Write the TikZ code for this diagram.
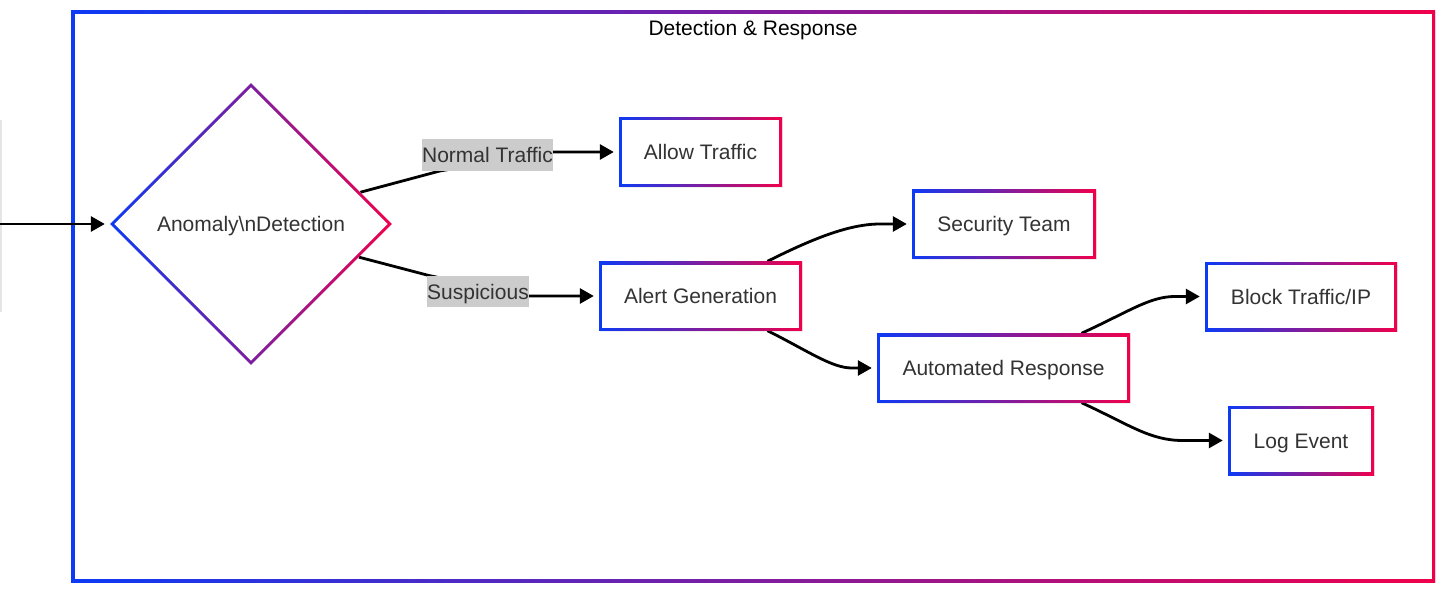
\documentclass[tikz,border=0pt]{standalone}
\usepackage{fontspec}
\setmainfont{Liberation Sans}
\usetikzlibrary{shapes.geometric,arrows.meta,calc,shadows}
\definecolor{gblue}{RGB}{12,58,245}
\definecolor{gred}{RGB}{240,0,75}
\definecolor{txt}{RGB}{51,51,51}
\definecolor{lblbg}{RGB}{204,204,204}
\pgfdeclarelayer{back}
\pgfdeclarelayer{edges}
\pgfsetlayers{back,edges,main}
\begin{document}
\begin{tikzpicture}[x=1pt,y=-1pt,
  font=\fontsize{21}{25}\selectfont,
  gbox/.style={rectangle, minimum width=#1, minimum height=69pt, inner sep=0pt, text=txt,
    text height=15.2pt, text depth=0pt,
    drop shadow={opacity=0.12,shadow xshift=1pt,shadow yshift=-1pt},
    path picture={
      \shade[left color=gblue,right color=gred] (path picture bounding box.south west) rectangle (path picture bounding box.north east);
      \fill[white] ([shift={(3pt,3pt)}]path picture bounding box.south west) rectangle ([shift={(-3pt,-3pt)}]path picture bounding box.north east);}},
  gdia/.style={diamond, aspect=1, minimum width=282pt, minimum height=282pt, inner sep=0pt, text=txt,
    text height=15.2pt, text depth=0pt,
    path picture={
      \shade[left color=gblue,right color=gred] (path picture bounding box.south west) rectangle (path picture bounding box.north east);
      \fill[white] ([xshift=4.3pt]path picture bounding box.west) -- ([yshift=-4.3pt]path picture bounding box.north) -- ([xshift=-4.3pt]path picture bounding box.east) -- ([yshift=4.3pt]path picture bounding box.south) -- cycle;}},
  container/.style={rectangle, minimum width=1364pt, minimum height=571pt, inner sep=0pt,
    drop shadow={opacity=0.10,shadow xshift=1pt,shadow yshift=-1pt},
    path picture={
      \shade[left color=gblue,right color=gred] (path picture bounding box.south west) rectangle (path picture bounding box.north east);
      \fill[white] ([shift={(3.5pt,3.5pt)}]path picture bounding box.south west) rectangle ([shift={(-3.5pt,-3.5pt)}]path picture bounding box.north east);}},
  lbl/.style={fill=lblbg, text=txt, inner xsep=0pt, inner ysep=0pt, text height=15.2pt, text depth=0pt,
    minimum height=31.5pt},
  conn/.style={line width=2.8pt, black, -{Triangle[length=14pt,width=15pt]}, shorten >=5pt}
]
\useasboundingbox (0,0) rectangle (1451,591);

% container
\begin{pgfonlayer}{back}
\node[container] (grp) at (753,296.5) {};
\draw[black!10, line width=2pt] (1,120) -- (1,312);
\end{pgfonlayer}
\node[text=black, text height=15.2pt, text depth=0pt, inner sep=0pt] (title) at (753,27.5) {Detection \& Response};

% nodes
\node[gdia] (anom) at (251,224) {Anomaly\textbackslash nDetection};
\node[gbox=163pt] (allow) at (700.5,152) {Allow Traffic};
\node[gbox=184pt] (sec) at (1004,224) {Security Team};
\node[gbox=203pt] (alert) at (700.5,296) {Alert Generation};
\node[gbox=192pt] (block) at (1301,296.5) {Block Traffic/IP};
\node[gbox=253pt] (auto) at (1003.5,368) {Automated Response};
\node[gbox=146pt] (log) at (1301,440.5) {Log Event};

% edge labels
\node[lbl] (lbl1) at (487.5,155) {Normal Traffic};
\node[lbl] (lbl2) at (478,291.5) {Suspicious};

\coordinate (src) at (0,224);

\begin{pgfonlayer}{edges}
\draw[conn] (src) -- (anom.west);
\draw[conn] ($(anom.north)!0.775!(anom.east)$) -- ($(lbl1.south west)+(18,0)$) -- (lbl1.east |- allow.west) -- (allow.west);
\draw[conn] ($(anom.east)!0.235!(anom.south)$) -- ($(lbl2.north west)+(2,0)$) -- (lbl2.east |- alert.west) -- (alert.west);
\draw[conn] ([xshift=67pt]alert.north) .. controls ($([xshift=67pt]alert.north)+(40,-20)$) and ($(sec.west)+(-65,0)$) .. ($(sec.west)+(-32,0)$) -- (sec.west);
\draw[conn] ([xshift=67pt]alert.south) .. controls ($([xshift=67pt]alert.south)+(40,20)$) and ($(auto.west)+(-45,0)$) .. ($(auto.west)+(-25,0)$) -- (auto.west);
\draw[conn] ([xshift=78pt]auto.north) .. controls ($([xshift=78pt]auto.north)+(48,-22)$) and ($(block.west)+(-55,0)$) .. ($(block.west)+(-30,0)$) -- (block.west);
\draw[conn] ([xshift=78pt]auto.south) .. controls ($([xshift=78pt]auto.south)+(48,22)$) and ($(log.west)+(-78,0)$) .. ($(log.west)+(-45,0)$) -- (log.west);
\end{pgfonlayer}
\end{tikzpicture}
\end{document}
